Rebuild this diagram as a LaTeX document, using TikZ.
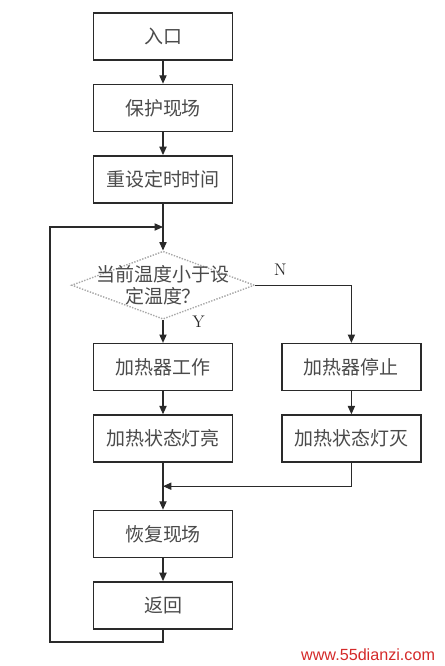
\documentclass[tikz,border=0pt]{standalone}
\usepackage{fontspec}
\usepackage{xcolor}
\usetikzlibrary{arrows.meta, positioning, shapes.geometric, calc}
\newfontfamily\cjk{Noto Sans CJK SC}
\newfontfamily\wmfont{Liberation Sans}
\definecolor{ink}{HTML}{2A2A2A}
\definecolor{txt}{HTML}{4A4A4A}
\definecolor{dash}{HTML}{A8A8A8}
\definecolor{mark}{HTML}{D42A2A}

\begin{document}
\begin{tikzpicture}[x=0.25mm, y=-0.25mm, >={Triangle[length=2.1mm, width=1.8mm]},
    node distance=5.75mm,
    box/.style={draw=ink, line width=0.35mm, minimum width=34.75mm, minimum height=11.75mm,
      inner sep=0pt, text=txt, font=\cjk\fontsize{13.5}{15}\selectfont},
    test/.style={draw=dash, line width=0.35mm, dash pattern=on 1pt off 1pt, diamond,
      minimum width=45.75mm, minimum height=17mm, inner sep=0pt},
    flow/.style={->, ink, line width=0.3mm}]

  \useasboundingbox (0,0) rectangle (444,666);

  \node[box] (entry) at (163,36.5) {入口};
  \node[box, below=of entry] (protect) {保护现场};
  \node[box, below=of protect] (reset) {重设定时时间};
  \node[test, below=11.75mm of reset,
    label={[text=txt, font=\cjk\fontsize{13.5}{16}\selectfont, align=center]center:当前温度小于设\\定温度？}] (cmp) {};
  \node[box, below=of cmp] (heaton) {加热器工作};
  \node[box, right=12mm of heaton] (heatoff) {加热器停止};
  \node[box, below=of heaton] (ledon) {加热状态灯亮};
  \node[box, below=of heatoff] (ledoff) {加热状态灯灭};
  \node[box, below=11.75mm of ledon] (restore) {恢复现场};
  \node[box, below=of restore] (ret) {返回};

  \coordinate (top) at ($(reset.south)!0.5!(cmp.north)$);
  \coordinate (join) at ($(ledon.south)!0.5!(restore.north)$);
  \coordinate (back) at (50,642);

  \draw[flow] (entry) -- (protect);
  \draw[flow] (protect) -- (reset);
  \draw[flow] (reset) -- (cmp);
  \draw[flow] (cmp) -- node[pos=0.1, right=6mm, text=ink, font=\fontsize{12}{14}\selectfont] {Y} (heaton);
  \draw[flow] (cmp.east) -| node[pos=0.13, above=1mm, text=ink, font=\fontsize{12}{14}\selectfont] {N} (heatoff);
  \draw[flow] (heaton) -- (ledon);
  \draw[flow] (heatoff) -- (ledoff);
  \draw[flow] (ledon) -- (restore);
  \draw[flow] (ledoff.south) |- (join);
  \draw[flow] (restore) -- (ret);
  \draw[flow] (ret.south) |- (back) |- (top);

  \node[text=mark, font=\wmfont\fontsize{11.5}{13}\selectfont, anchor=east] (site) at (440,655) {www.55dianzi.com};
\end{tikzpicture}
\end{document}
